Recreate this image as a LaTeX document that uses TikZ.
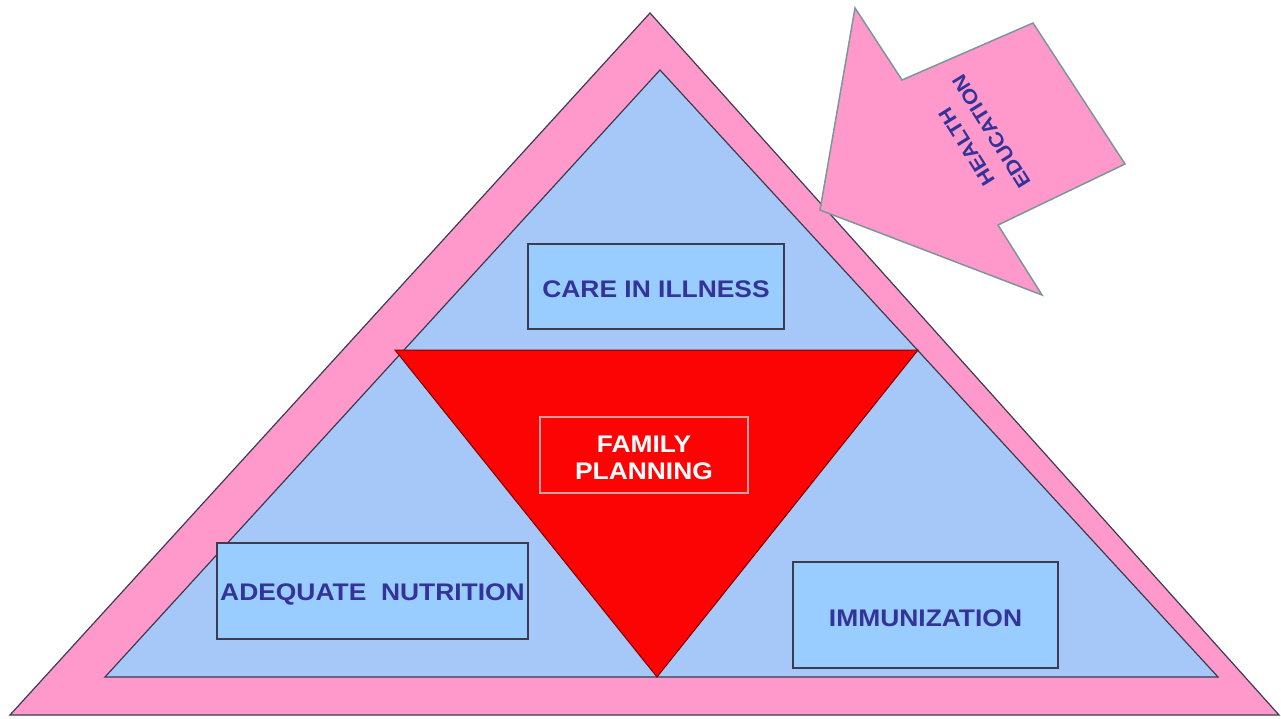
\documentclass[tikz,border=0pt]{standalone}
\usepackage{fontspec}
\setmainfont{Liberation Sans}
\definecolor{pinkband}{RGB}{255,153,204}
\definecolor{bluebg}{RGB}{166,200,248}
\definecolor{boxfill}{RGB}{153,204,255}
\definecolor{txtblue}{RGB}{51,51,153}
\definecolor{edge}{RGB}{60,60,80}
\definecolor{redfill}{RGB}{252,4,4}
\definecolor{arrowedge}{RGB}{125,150,150}
\definecolor{fpedge}{RGB}{200,160,160}
\newcommand{\stretchtxt}[1]{\scalebox{1.1}[1]{#1}}
\newcommand{\boxtxt}[1]{\raisebox{-3pt}[\height][\depth]{\scalebox{1.1}[1]{#1}}}
\begin{document}
\begin{tikzpicture}[x=1pt,y=-1pt,
  shapeline/.style={draw=edge, line width=1.2pt, line join=miter},
  bluebox/.style={draw=edge, line width=1.2pt, fill=boxfill, text=txtblue,
    font=\bfseries\fontsize{24}{27}\selectfont, inner sep=0pt, align=center},
  fpbox/.style={draw=fpedge, line width=1.2pt, fill=redfill, text=white,
    font=\bfseries\fontsize{24}{27}\selectfont, inner sep=0pt, align=center},
  arrowtext/.style={text=txtblue, font=\bfseries\fontsize{20}{29}\selectfont,
    inner sep=0pt, align=center}]
\useasboundingbox (0,0) rectangle (1281,719);
% outer pink triangle
\filldraw[shapeline, fill=pinkband] (650,13) -- (1279,715) -- (10,715) -- cycle;
% inner blue triangle
\filldraw[shapeline, fill=bluebg] (660,70) -- (1218,677) -- (105,677) -- cycle;
% red inverted triangle
\filldraw[draw=red!50!black, line width=1pt, fill=redfill] (395,350) -- (918,350) -- (657,677) -- cycle;
% boxes
\node[bluebox, minimum width=256pt, minimum height=85pt] (care) at (656,286.5)
  {\boxtxt{CARE IN ILLNESS}};
\node[fpbox, minimum width=208pt, minimum height=76pt] (fp) at (644,455)
  {\boxtxt{FAMILY}\\\boxtxt{PLANNING}};
\node[bluebox, minimum width=311pt, minimum height=96pt] (nutr) at (372.5,591)
  {\boxtxt{ADEQUATE\ \ NUTRITION}};
\node[bluebox, minimum width=265pt, minimum height=106pt] (immu) at (925.5,615)
  {\boxtxt{IMMUNIZATION}};
% health education arrow
\filldraw[draw=arrowedge, line width=1.5pt, fill=pinkband, line join=miter]
  (820,210) -- (855,8) -- (902,80) -- (1033,23) -- (1125,164) -- (998,225) -- (1042,295) -- cycle;
\node[arrowtext, rotate=122] (he) at (979,139) {\stretchtxt{HEALTH}\\\stretchtxt{EDUCATION}};
\end{tikzpicture}
\end{document}
